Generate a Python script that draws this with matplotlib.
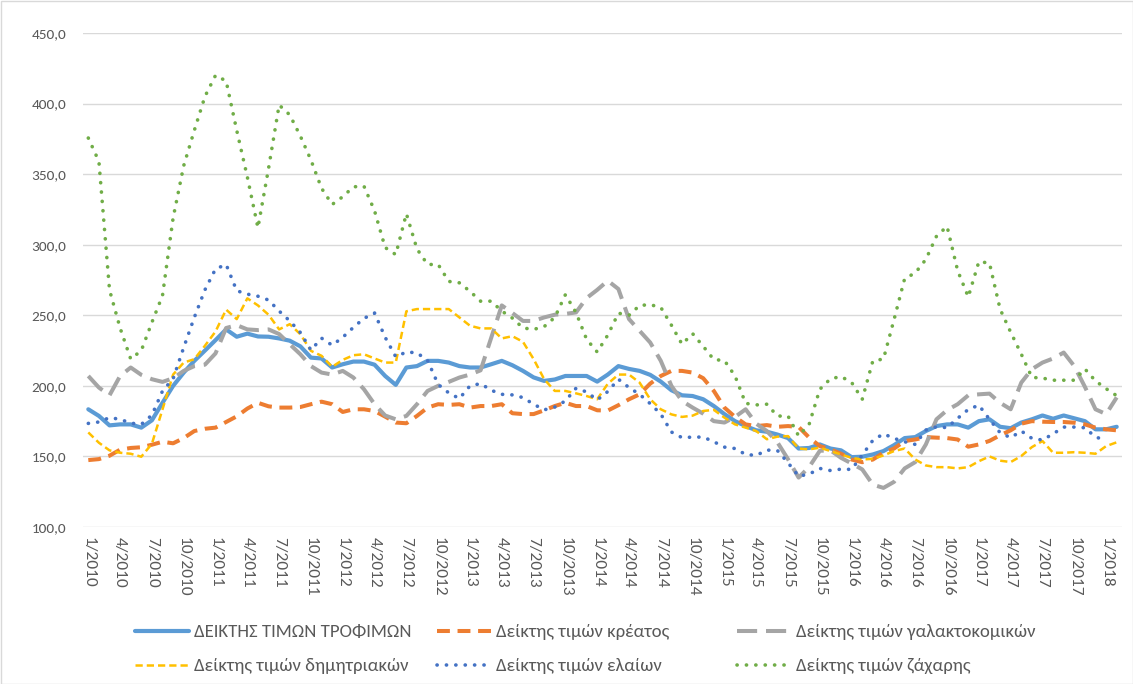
import numpy as np
import matplotlib
matplotlib.use("Agg")
import matplotlib.pyplot as plt
from matplotlib.patches import Rectangle

plt.rcParams['font.family'] = ['Carlito', 'DejaVu Sans']

# months 1/2010 .. 2/2018
months = [f"{m}/{y}" for y in range(2010, 2019) for m in range(1, 13)][:98]

food = [183.4, 178.7, 172, 172.7, 172.7, 170.4, 175.6, 188, 200, 209.4, 217.7, 225, 232.4, 240, 234.8, 237, 235,
        234.8, 233.6, 232, 228, 220, 219.4, 213, 215.3, 217.2, 217.2, 215, 207, 200.7, 213, 214, 217.7,
        217.7, 216.5, 214, 213, 213, 215.3, 217.7, 214.6, 210.6, 206, 203.5, 204.5, 207, 207, 207, 203, 208,
        214, 212, 210.6, 207.8, 203, 196.9, 193.3, 192.8, 190.5, 185.7, 180, 175, 171.5, 168.5, 167.5, 165.5,
        163, 155.6, 156, 158.5, 155.6, 154.3, 149.5, 149.8, 151.4, 153.8, 158, 163, 163.7, 168, 171.5, 172.7,
        172.7, 170.4, 175, 176.3, 171, 170, 174, 176.3, 179, 176.7, 179, 177, 175, 169.2, 169.2, 171]

meat = [147.4, 148.1, 150.5, 154.8, 156, 156.5, 158.3, 160.4, 159.3, 163, 168, 169.6, 170.4, 174.4, 178.4, 183.9, 188,
        185.5, 184.6, 184.6, 185, 187, 188.8, 187, 181.5, 183.4, 183.4, 182.2, 178.2, 174, 173.5, 178.7, 184.6,
        187, 186.5, 187, 184.6, 185.7, 185.7, 187, 180.6, 180, 180, 182.7, 185.7, 188, 185.7, 185.7, 182.7, 182.5,
        186.3, 190.5, 194, 201.6, 207, 210.6, 210.6, 209.4, 205.4, 196.4, 184.6, 178, 172.7, 171.5, 172.2, 171,
        171.5, 170.9, 163.3, 157.3, 155, 151.9, 147.8, 145.9, 147.8, 152.6, 155.6, 160.9, 162, 163.7, 163.3, 163,
        162, 156.9, 158.5, 161, 165, 168.5, 173.2, 175, 174.6, 174.4, 174.4, 173.9, 172.7, 170.4, 169.2, 168.5]

dairy = [207, 198.8, 193.3, 207, 213, 207.8, 204.7, 202.8, 205.4, 210.6, 214, 215, 223, 241, 243, 240, 239.5,
         240, 236.7, 229.5, 222.4, 214, 209.4, 208, 210.6, 205.9, 197.6, 187, 179, 176.3, 178.7, 187, 196.4,
         200, 202.8, 205.9, 208, 211, 234, 257, 251.6, 246, 246, 248.5, 250.4, 251, 252, 262.2, 268, 274.5,
         268.6, 247.3, 239, 230.7, 217.7, 200, 189.3, 184.6, 180.3, 175, 174, 178, 183.4, 173.2, 168, 160,
         148, 135, 142.6, 154, 154.3, 149, 145, 140.8, 130, 127.7, 132, 141.5, 146, 158.5, 176.3, 182.8,
         187, 193.3, 194, 194.5, 188, 183.4, 202.3, 211.8, 216.5, 219.4, 223.6, 214, 199.3, 183.4, 180, 191.8]

cereals = [167, 159.7, 154.3, 152.6, 151.9, 149.8, 159, 183.4, 208, 216.5, 218.9, 228.4, 238.5, 254, 247.3, 262, 257,
           250.4, 240, 243.7, 236.6, 224.8, 221.3, 213.5, 218.4, 221.7, 222.4, 219.4, 216.5, 216.5, 252.8, 254.4, 254.4,
           254.4, 254.4, 248.5, 242.6, 240.7, 240.7, 233.6, 235.2, 231.2, 219, 204.7, 196.4, 196.4, 194.7, 192.8, 190.5,
           201.5, 208, 208, 202.3, 190.5, 183.4, 179.8, 178, 178.9, 182.2, 183, 177.5, 172.7, 170.4, 168, 162.2, 164,
           164.4, 155.6, 155, 156.2, 153.8, 151.4, 149, 147.8, 148.3, 150.7, 153.8, 155.6, 147.8, 143.6, 142.4, 142.4,
           141.5, 142.4, 146.6, 150, 147, 146, 150.3, 156.6, 160.9, 152.6, 152.6, 153, 152.6, 151.9, 157.3, 160]

oils = [173.4, 174.4, 177.5, 176.3, 173.6, 172.7, 179.3, 196.4, 205, 227.2, 248.5, 268, 282.8, 286, 267.4, 265, 263.5,
        260.8, 253, 246, 237.8, 225.3, 233.8, 228.8, 234.4, 241.4, 247.8, 251.6, 234.4, 220.6, 224, 223.4, 218,
        201, 195, 191, 200, 201.6, 196.9, 194, 193.6, 191.7, 187, 183, 185, 189.3, 198.3, 195.7, 190, 196,
        204.7, 198.8, 194, 187.4, 180, 167.3, 163.3, 163.7, 163.7, 160.4, 156.6, 155.6, 151.4, 150.7, 154.5, 154.2,
        145.5, 136, 137.5, 141.5, 140, 141, 140.8, 151, 161.4, 166, 162.8, 160.4, 158.5, 168.7, 171, 170.4,
        177, 183.3, 186.3, 176.3, 166.8, 163.3, 168, 162.8, 161.6, 166, 170.8, 170.8, 170.3, 163.7, 161.6, np.nan]

sugar = [375.6, 359, 268, 241, 219, 225, 245, 264, 319, 356, 381, 405, 420, 416, 381, 348, 312,
         354, 399, 392, 377, 360, 340, 328.5, 334, 341, 341.5, 324, 298, 293, 322, 297, 286,
         286, 274, 273, 267, 260, 260, 253, 248, 241, 240, 242, 248.5, 264.6, 252, 233, 224, 236,
         251.5, 250, 257, 257.5, 255.6, 243, 229.5, 237, 228, 218.6, 218, 207, 187.6, 186.5, 187, 178.6,
         178.6, 164.5, 173, 197.6, 205, 206.6, 202.4, 190.5, 217.7, 219, 247, 276, 280, 289.6, 306, 313,
         281.6, 263, 288, 287, 254.4, 238, 222.5, 206, 205.5, 204, 204, 204, 212, 203.5, 198, 193]

labels = ["ΔΕΙΚΤΗΣ ΤΙΜΩΝ ΤΡΟΦΙΜΩΝ", "Δείκτης τιμών κρέατος", "Δείκτης τιμών γαλακτοκομικών",
          "Δείκτης τιμών δημητριακών", "Δείκτης τιμών ελαίων", "Δείκτης τιμών ζάχαρης"]

W, H = 1133, 684
fig = plt.figure(figsize=(W / 100, H / 100), dpi=100)
ax = fig.add_axes([83 / W, 1 - 527 / H, (1122 - 83) / W, (527 - 33) / H])

x = np.arange(len(months))
h0, = ax.plot(x, food, color='#5B9BD5', lw=3.0, solid_capstyle='round', solid_joinstyle='round', zorder=3)
h1, = ax.plot(x, meat, color='#ED7D31', lw=2.9, linestyle=(0, (3.2, 1.9)), zorder=3)
h2, = ax.plot(x, dairy, color='#A5A5A5', lw=2.9, linestyle=(0, (5.0, 2.2)), zorder=3)
h3, = ax.plot(x, cereals, color='#FFC000', lw=1.8, linestyle=(0, (2.9, 1.6)), zorder=3)
h4, = ax.plot(x, oils, color='#4472C4', lw=2.6, linestyle=(0, (0.05, 2.55)), dash_capstyle='round', zorder=3)
h5, = ax.plot(x, sugar, color='#70AD47', lw=2.6, linestyle=(0, (0.05, 2.55)), dash_capstyle='round', zorder=3)

ax.set_xlim(-0.5, len(months) - 0.5)
ax.set_ylim(100, 450)
yt = np.arange(100, 451, 50)
ax.set_yticks(yt)
ax.set_yticklabels([f"{v:.1f}".replace('.', ',') for v in yt], fontsize=11, color='#595959')
ax.set_xticks(x[::3])
ax.set_xticklabels(months[::3], rotation=270, fontsize=12.5, color='#595959')
ax.tick_params(axis='both', length=0)
ax.tick_params(axis='y', pad=12)
ax.tick_params(axis='x', pad=7)
ax.grid(axis='y', color='#D9D9D9', lw=1.0)
ax.set_axisbelow(True)
for s in ax.spines.values():
    s.set_visible(False)

handles = [h0, h1, h2, h3, h4, h5]
col_x = [135, 437, 737]
row_y = [632, 666]
for k, (h, lab) in enumerate(zip(handles, labels)):
    r, c = divmod(k, 3)
    fig.legend([h], [lab], loc='center left', bbox_to_anchor=(col_x[c] / W, 1 - row_y[r] / H),
               frameon=False, borderpad=0, borderaxespad=0, fontsize=13.5,
               handlelength=2.9, handletextpad=0.25, labelcolor='#595959')

fig.patches.append(Rectangle((0.5 / W, 0.5 / H), 1 - 1 / W, 1 - 1 / H, transform=fig.transFigure,
                             fill=False, edgecolor='#D9D9D9', lw=1))

fig.savefig('out.png', dpi=100)
